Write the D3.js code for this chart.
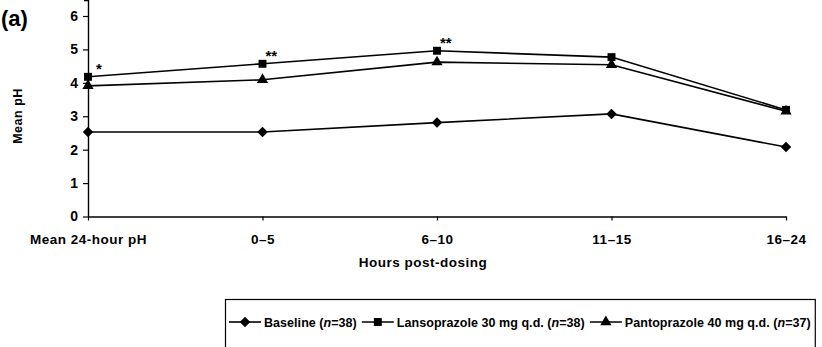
<!DOCTYPE html>
<html>
<head>
<meta charset="utf-8">
<script src="https://cdn.jsdelivr.net/npm/d3@7"></script>
<style>
body { margin: 0; background: #fff; }
svg { display: block; font-family: "Liberation Sans", Arial, sans-serif; }
text { fill: #000; font-weight: bold; }
</style>
</head>
<body>
<svg width="822" height="347"></svg>
<script>
var categories = ["Mean 24-hour pH", "0\u20135", "6\u201310", "11\u201315", "16\u201324"];
var baseline = [2.53, 2.53, 2.81, 3.07, 2.08];
var lansoprazole = [4.18, 4.57, 4.96, 4.77, 3.19];
var pantoprazole = [3.91, 4.09, 4.62, 4.54, 3.15];
var yTicks = [0, 1, 2, 3, 4, 5, 6];
var stars = ["*", "**", "**", "", ""];

var series = [
	{name: "Baseline", n: "38", values: baseline, shape: d3.symbolDiamond2, size: 70},
	{name: "Lansoprazole 30 mg q.d.", n: "38", values: lansoprazole, shape: d3.symbolSquare2, size: 80},
	{name: "Pantoprazole 40 mg q.d.", n: "37", values: pantoprazole, shape: d3.symbolTriangle2, size: 90}
];

var svg = d3.select("svg");

var x = d3.scalePoint().domain(categories).range([88, 786]);
var y = d3.scaleLinear().domain([0, 6]).range([216.5, 16]);

// panel letter
svg.append("text").attr("x", 1).attr("y", 26).style("font-size", "22px").text("(a)");

// axes
var yAxis = svg.append("g").attr("transform", "translate(88,0)")
	.call(d3.axisLeft(y).tickValues(yTicks).tickSize(5).tickPadding(5).tickFormat(d3.format("d")));
var xAxis = svg.append("g").attr("transform", "translate(0," + y(0) + ")")
	.call(d3.axisBottom(x).tickSize(4).tickPadding(14));

[yAxis, xAxis].forEach(function(g){
	g.select(".domain").attr("stroke", "#000").attr("stroke-width", 1.4);
	g.selectAll(".tick line").attr("stroke", "#000").attr("stroke-width", 1.2);
	g.selectAll(".tick text").attr("fill", "#000").style("font-size", "13.5px")
		.style("letter-spacing", "0.5px").style("font-weight", "bold")
		.style("font-family", "'Liberation Sans', Arial, sans-serif");
});
yAxis.selectAll(".tick text").style("font-size", "14px").style("letter-spacing", "0");
// x axis domain without outer ticks
xAxis.select(".domain").attr("d", "M88,0.5H786.5");
yAxis.select(".domain").attr("d", "M-4,0.5H0.5V" + (y(0)));

svg.append("text").attr("x", 423).attr("y", 267).attr("text-anchor", "middle")
	.style("font-size", "13.5px").style("letter-spacing", "0.5px").text("Hours post-dosing");
svg.append("text").attr("transform", "translate(22,116) rotate(-90)").attr("text-anchor", "middle")
	.style("font-size", "12.5px").style("letter-spacing", "0.5px").text("Mean pH");

var line = d3.line().x((d, i) => x(categories[i])).y(d => y(d));

var g = svg.append("g");
series.forEach(function(s){
	g.append("path").attr("d", line(s.values)).attr("fill", "none")
		.attr("stroke", "#000").attr("stroke-width", 1.6);
});
series.forEach(function(s){
	g.selectAll(null).data(s.values).enter().append("path")
		.attr("transform", (d, i) => "translate(" + x(categories[i]) + "," + y(d) + ")")
		.attr("d", d3.symbol().type(s.shape).size(s.size))
		.attr("fill", "#000");
});

// significance marks
svg.selectAll("text.star").data(lansoprazole).enter().append("text")
	.attr("class", "star")
	.attr("x", (d, i) => x(categories[i]) + (i ? 3 : 8))
	.attr("y", d => y(d) - 3)
	.style("font-size", "15px")
	.text((d, i) => stars[i]);

// legend
var legend = svg.append("g");
var box = legend.append("rect").attr("x", 225.5).attr("y", 299.5).attr("height", 60)
	.attr("fill", "none").attr("stroke", "#000").attr("stroke-width", 1.2);
var lx = 229;
series.forEach(function(s){
	legend.append("line").attr("x1", lx).attr("x2", lx + 32).attr("y1", 322).attr("y2", 322)
		.attr("stroke", "#000").attr("stroke-width", 1.6);
	legend.append("path").attr("transform", "translate(" + (lx + 16) + ",322)")
		.attr("d", d3.symbol().type(s.shape).size(s.size)).attr("fill", "#000");
	var t = legend.append("text").attr("x", lx + 35).attr("y", 326.5)
		.style("font-size", "12.5px").style("letter-spacing", "0.05px");
	t.append("tspan").text(s.name + " (");
	t.append("tspan").style("font-style", "italic").text("n");
	t.append("tspan").text("=" + s.n + ")");
	lx += 35 + t.node().getComputedTextLength() + 5;
});
box.attr("width", lx - 226);
</script>
</body>
</html>
